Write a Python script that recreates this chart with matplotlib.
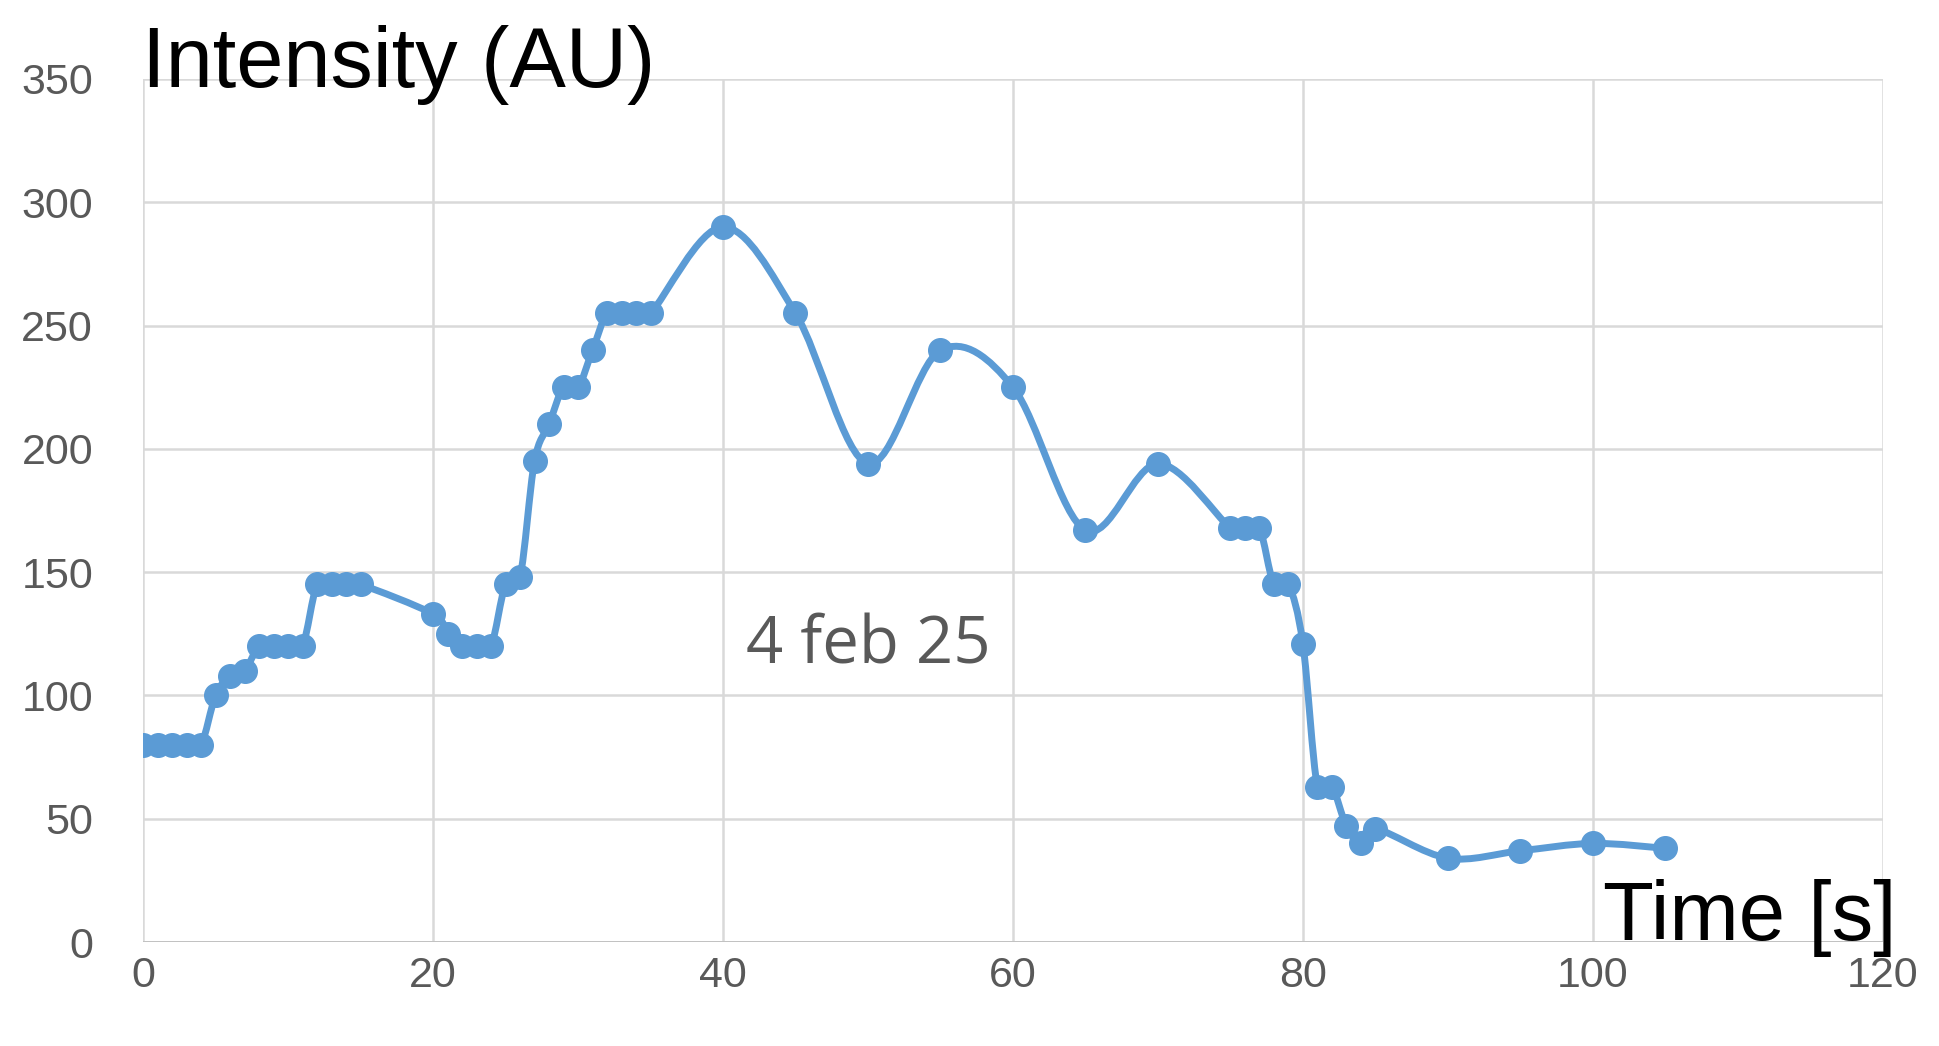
import numpy as np
import matplotlib
matplotlib.use("Agg")
import matplotlib.pyplot as plt
from matplotlib.path import Path
from matplotlib.patches import PathPatch

# time [s] and intensity (AU)
time_s = [0, 1, 2, 3, 4, 5, 6, 7, 8, 9, 10, 11, 12, 13, 14, 15,
          20, 21, 22, 23, 24, 25, 26, 27, 28, 29, 30, 31, 32, 33, 34, 35,
          40, 45, 50, 55, 60, 65, 70, 75, 76, 77, 78, 79, 80, 81, 82,
          83, 84, 85, 90, 95, 100, 105]
intensity = [80, 80, 80, 80, 80, 100, 108, 110, 120, 120, 120, 120, 145, 145, 145, 145,
             133, 125, 120, 120, 120, 145, 148, 195, 210, 225, 225, 240, 255, 255, 255, 255,
             290, 255, 194, 240, 225, 167, 194, 168, 168, 168, 145, 145, 121, 63, 63,
             47, 40, 46, 34, 37, 40, 38]

x_ticks = [0, 20, 40, 60, 80, 100, 120]
y_ticks = [0, 50, 100, 150, 200, 250, 300, 350]

blue = "#5B9BD5"
grid_col = "#d9d9d9"
label_col = "#595959"

plt.rcParams['font.family'] = ['Liberation Sans', 'DejaVu Sans']

fig = plt.figure(figsize=(19.39, 10.46), dpi=100)
ax = fig.add_axes([0.0738, 0.0994, 0.8972, 0.8251])


def smooth_path(xs, ys):
    # Excel-like smoothed line: Catmull-Rom segments as cubic Beziers
    pts = np.column_stack([xs, ys]).astype(float)
    n = len(pts)
    verts = [pts[0]]
    codes = [Path.MOVETO]
    for i in range(n - 1):
        p0 = pts[i - 1] if i > 0 else pts[i]
        p1 = pts[i]
        p2 = pts[i + 1]
        p3 = pts[i + 2] if i + 2 < n else pts[i + 1]
        c1 = p1 + (p2 - p0) / 6.0
        c2 = p2 - (p3 - p1) / 6.0
        verts += [c1, c2, p2]
        codes += [Path.CURVE4] * 3
    return Path(verts, codes)


ax.add_patch(PathPatch(smooth_path(time_s, intensity), facecolor="none",
                       edgecolor=blue, lw=5, zorder=3, capstyle="round",
                       joinstyle="round"))
ax.plot(time_s, intensity, linestyle="none", marker="o", ms=17,
        color=blue, zorder=4)

ax.set_xlim(0, 120)
ax.set_ylim(0, 350)
ax.set_xticks(x_ticks)
ax.set_yticks(y_ticks)
ax.grid(True, color=grid_col, lw=1.8)
ax.set_axisbelow(True)
for s in ax.spines.values():
    s.set_visible(False)
ax.axhline(0, color="#bfbfbf", lw=2, zorder=1)
ax.tick_params(length=0, labelsize=31, labelcolor=label_col)
ax.tick_params(axis="y", pad=36)
ax.tick_params(axis="x", pad=10)

fig.text(0.073, 0.917, "Intensity (AU)", fontsize=61, color="black",
         ha="left", va="baseline")
fig.text(0.978, 0.101, "Time [s]", fontsize=60, color="black",
         ha="right", va="baseline")
ax.text(50.0, 120, "4 feb 25", fontsize=47, color=label_col,
        ha="center", va="center", family=['Open Sans', 'Liberation Sans'])

fig.savefig("out.png", dpi=100)
